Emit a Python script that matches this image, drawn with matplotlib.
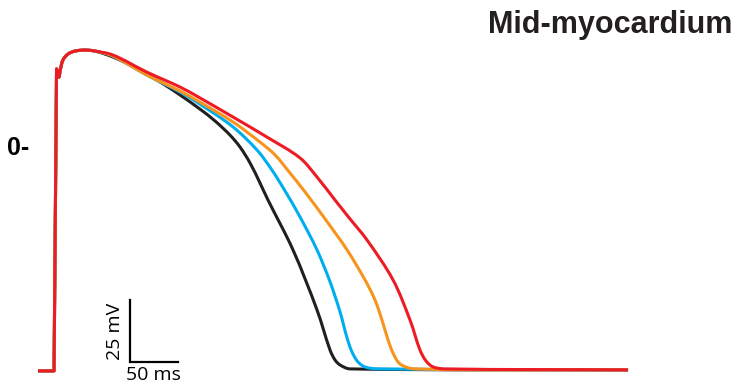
import numpy as np
import matplotlib.pyplot as plt
from matplotlib.path import Path
from matplotlib.patches import PathPatch

# upstroke + early plateau, shared by every trace (ms, mV)
t_start = [-17.7, -1.0, 1.6, 3.1, 4.2, 5.2, 8.3, 13.5, 20.8, 31.3, 41.7]
v_start = [-89.9, -89.9, 31.9, 30.6, 28.6, 31.0, 35.5, 37.9, 39.1, 39.5, 39.1]

t_black = [60.4, 78.1, 95.8, 114.6, 130.2, 151.0, 166.7, 182.3, 192.7, 203.1,
           213.5, 221.9, 247.9, 272.9, 286.5, 291.7, 296.9, 307.3, 596.9]
v_black = [36.7, 33.5, 29.8, 25.4, 21.4, 15.7, 10.9, 5.2, 0.4, -6.0,
           -14.1, -21.0, -41.1, -65.3, -81.5, -85.5, -87.5, -89.1, -89.5]

t_cyan = [60.4, 95.8, 130.2, 151.0, 185.4, 210.4, 226.0, 239.6, 255.2, 272.9,
          286.5, 296.9, 304.2, 309.4, 315.6, 322.9, 336.5, 596.9]
v_cyan = [37.1, 29.4, 22.6, 17.7, 8.5, -0.8, -8.9, -17.3, -27.8, -41.1,
          -54.0, -66.1, -76.6, -82.3, -86.3, -88.3, -89.1, -89.5]

t_orange = [60.4, 95.8, 130.2, 151.0, 185.4, 213.5, 229.2, 244.8, 260.4, 281.3,
            304.2, 322.9, 333.3, 340.6, 346.9, 352.1, 359.4, 375.0, 596.9]
v_orange = [37.1, 29.4, 23.0, 18.5, 10.5, 2.4, -2.8, -10.1, -17.7, -28.6,
            -41.1, -53.2, -61.3, -69.4, -77.4, -82.7, -87.1, -89.1, -89.5]

t_red = [60.4, 95.8, 130.2, 151.0, 185.4, 220.8, 255.2, 272.9, 291.7, 307.3,
         325.0, 352.1, 369.8, 380.2, 386.5, 393.8, 406.3, 596.9]
v_red = [37.5, 30.6, 24.6, 20.2, 12.5, 4.4, -4.0, -11.7, -21.0, -28.6,
         -37.1, -53.2, -69.4, -81.5, -85.9, -88.3, -89.1, -89.5]

traces = [
    (t_black, v_black, '#231f20'),
    (t_cyan, v_cyan, '#00aeef'),
    (t_orange, v_orange, '#f7941d'),
    (t_red, v_red, '#ed1c24'),
]

# px per ms / px per mV, used only to measure chord lengths
SX, SY = 0.96, 2.48


def trace_path(t, v, n_sharp=3):
    """Straight baseline + upstroke, then a smooth Bezier through the rest."""
    p = np.column_stack([t, v]).astype(float)
    verts = [p[0]]
    codes = [Path.MOVETO]
    for k in range(1, n_sharp):
        verts.append(p[k])
        codes.append(Path.LINETO)
    q = p[n_sharp - 1:]
    d = np.hypot(np.diff(q[:, 0]) * SX, np.diff(q[:, 1]) * SY)
    m = np.zeros_like(q)
    m[0] = (q[1] - q[0]) / d[0]
    m[-1] = (q[-1] - q[-2]) / d[-1]
    for i in range(1, len(q) - 1):
        m[i] = (q[i + 1] - q[i - 1]) / (d[i - 1] + d[i])
    for i in range(len(q) - 1):
        c1 = q[i] + m[i] * d[i] / 3
        c2 = q[i + 1] - m[i + 1] * d[i] / 3
        verts += [c1, c2, q[i + 1]]
        codes += [Path.CURVE4] * 3
    return Path(verts, codes)


fig = plt.figure(figsize=(7.37, 3.87), dpi=100)
ax = fig.add_axes([0, 0, 1, 1])
ax.set_xlim(-57.3, 710.4)
ax.set_ylim(-96.4, 59.7)
ax.axis('off')

for t, v, c in traces:
    path = trace_path(t_start + t, v_start + v)
    ax.add_patch(PathPatch(path, facecolor='none', edgecolor=c, lw=2.2,
                           joinstyle='round', capstyle='butt'))

# scale bar: 50 ms x 25 mV
sx, sy = 78.0, -86.3
ax.plot([sx, sx, sx + 50], [sy + 25, sy, sy], color='black', lw=1.6,
        solid_joinstyle='miter')
ax.text(sx + 25, sy - 1.5, '50 ms', ha='center', va='top',
        fontsize=14, family='Open Sans')
ax.text(sx - 6, sy + 12.5, '25 mV', ha='right', va='center', rotation=90,
        fontsize=14, family='Open Sans')

# zero marker
ax.text(7 / 737, 0, '0-', transform=ax.get_yaxis_transform(), ha='left',
        va='center', fontsize=18, fontweight='bold', family='Liberation Sans')

fig.text(732 / 737, 1 - 33 / 387, 'Mid-myocardium', ha='right', va='baseline',
         fontsize=22, fontweight='bold', family='Liberation Sans', color='#231f20')

fig.savefig('out.png', dpi=100)
